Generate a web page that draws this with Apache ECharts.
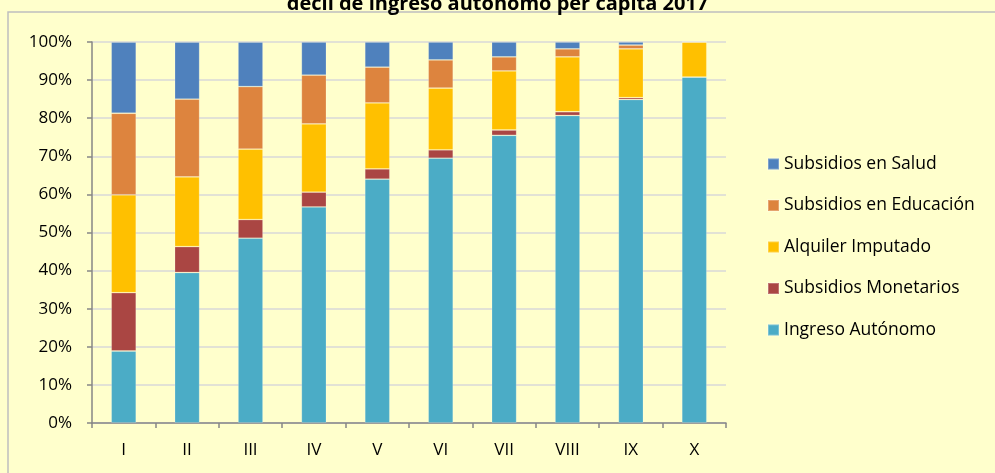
<!DOCTYPE html>
<html><head><meta charset="utf-8">
<script src="https://cdn.jsdelivr.net/npm/echarts@6/dist/echarts.min.js"></script>
<style>html,body{margin:0;padding:0;background:#FFFFCC;}#c{width:995px;height:473px;}</style>
</head><body><div id="c"></div>
<script>
var categories = ['I','II','III','IV','V','VI','VII','VIII','IX','X'];
var ingresoAutonomo = [18.9, 39.5, 48.5, 56.7, 64.0, 69.5, 75.5, 80.7, 84.9, 90.8];
var subsidiosMonetarios = [15.3, 6.8, 4.9, 3.9, 2.7, 2.2, 1.4, 1.0, 0.5, 0.0];
var alquilerImputado = [25.7, 18.3, 18.5, 17.9, 17.3, 16.2, 15.5, 14.4, 12.8, 9.2];
var subsidiosEducacion = [21.4, 20.4, 16.4, 12.8, 9.4, 7.4, 3.7, 2.1, 1.0, 0.0];
var subsidiosSalud = [18.7, 15.0, 11.7, 8.7, 6.6, 4.7, 3.9, 1.8, 0.8, 0.0];
var yTicks = [0,10,20,30,40,50,60,70,80,90,100];
var seriesNames = ['Ingreso Autónomo','Subsidios Monetarios','Alquiler Imputado','Subsidios en Educación','Subsidios en Salud'];
var seriesColors = ['#4BACC6','#AA4643','#FFC000','#DD843E','#4F81BD'];
var titleText = 'decil de ingreso autónomo per cápita 2017';

var dataSets = [ingresoAutonomo, subsidiosMonetarios, alquilerImputado, subsidiosEducacion, subsidiosSalud];
var font = 'Open Sans, Lato, Liberation Sans, sans-serif';
var chart = echarts.init(document.getElementById('c'), null, {renderer:'canvas'});
chart.setOption({
  backgroundColor: '#FFFFCC',
  animation: false,
  title: {text: titleText, left: 'center', top: -11,
    textStyle: {fontFamily: font, fontSize: 20, fontWeight: 'bold', color: '#000'}},
  graphic: [{type:'rect', shape:{x:8, y:12, width:1100, height:600},
    style:{fill:'none', stroke:'#BFBFBF', lineWidth:1.5}, z:-1}],
  grid: {left: 92, right: 269, top: 42, bottom: 50},
  legend: {
    orient: 'vertical', left: 762, top: 150,
    data: seriesNames.slice().reverse(),
    icon: 'rect', itemWidth: 11, itemHeight: 11, itemGap: 23.5,
    textStyle: {fontFamily: font, fontSize: 17.5, color: '#000'}
  },
  xAxis: {
    type: 'category', data: categories, boundaryGap: true,
    axisLine: {lineStyle: {color: '#868686', width: 1.5}},
    axisTick: {show: true, length: 5, lineStyle: {color: '#868686', width: 1.5}},
    axisLabel: {fontFamily: font, fontSize: 17, color: '#000', margin: 19},
    splitLine: {show: false}
  },
  yAxis: {
    type: 'value', min: 0, max: 100, interval: 10,
    axisLine: {show: true, lineStyle: {color: '#868686', width: 1.5}},
    axisTick: {show: true, length: 5, lineStyle: {color: '#868686', width: 1.5}},
    axisLabel: {fontFamily: font, fontSize: 17, color: '#000', margin: 20,
      formatter: function(v){ return yTicks.indexOf(v) >= 0 ? v + '%' : ''; }},
    splitLine: {lineStyle: {color: '#D9D9D9', width: 1.5}}
  },
  series: seriesNames.map(function(n, i){
    return {name: n, type: 'bar', stack: 'total', data: dataSets[i], barWidth: 25,
      itemStyle: {color: seriesColors[i], borderColor: 'rgba(255,255,255,0.25)', borderWidth: 0.8}};
  })
});
</script></body></html>
